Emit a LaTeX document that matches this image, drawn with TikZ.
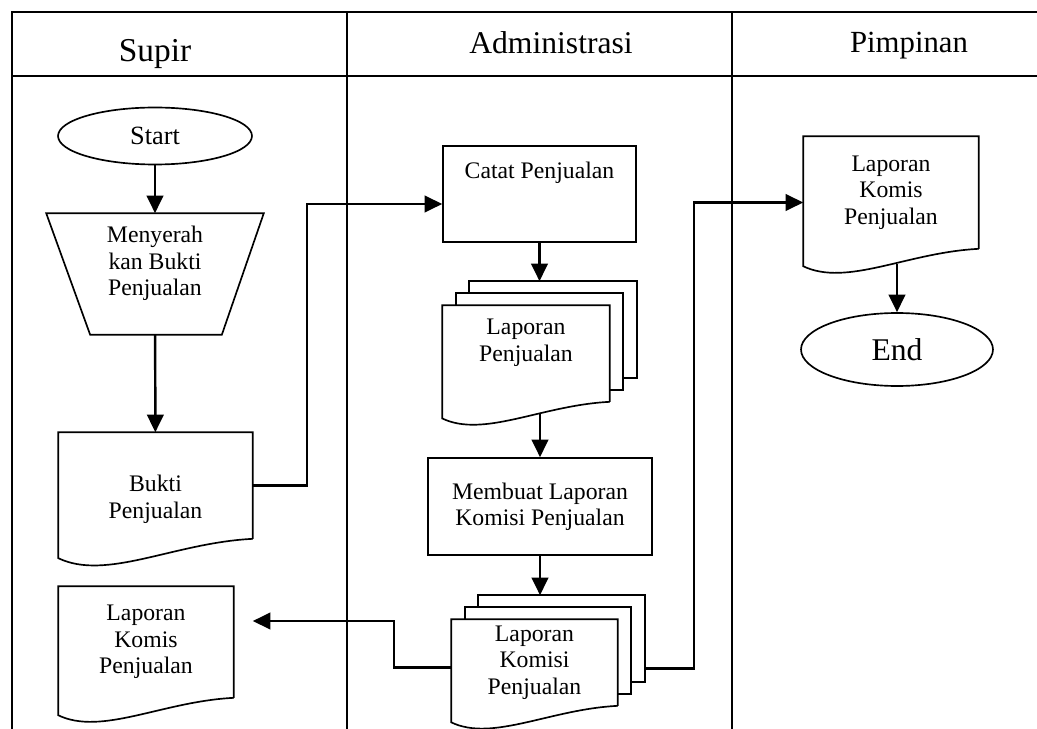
\documentclass[tikz,border=0pt]{standalone}
\usepackage{fontspec}
\setmainfont{Liberation Serif}
\usetikzlibrary{shapes.geometric,arrows.meta,calc}

\newcommand{\dokumen}[2]{%
  \draw (#1.south east) -- (#1.north east) -- (#1.north west) -- ($(#1.south west)+(0,0.1*#2)$)
    .. controls ($(#1.south west)+(0.25*#2,0.22*#2)$) and ($(#1.south west)+(0.6*#2,0.02*#2)$) .. (#1.south east);
}
\newcommand{\lembar}[1]{%
  \draw ($(#1.north west)+(27,-12)$) -- ($(#1.north west)+(27,-24)$) -- ($(#1.north east)+(27,-24)$)
    -- ($(#1.south east)+(27,-24)$) -- ($(#1.south east)+(13.5,-24)$);
  \draw ($(#1.north west)+(13.5,0)$) -- ($(#1.north west)+(13.5,-12)$) -- ($(#1.north east)+(13.5,-12)$)
    -- ($(#1.south east)+(13.5,-12)$) -- ($(#1.south east)+(0,-12)$);
  \coordinate (#1-top) at ($(#1.north)+(27,-24)$);
  \coordinate (#1-right) at ($(#1.east)+(27,0)$);
}

\begin{document}
\begin{tikzpicture}[x=0.02cm,y=-0.02cm,line width=0.95pt,
    every node/.style={font=\fontsize{13.5}{15}\selectfont, align=center},
    proses/.style={draw, rectangle, inner sep=0pt},
    dok/.style={rectangle, inner sep=0pt},
    terminal/.style={draw, ellipse, inner sep=0pt},
    judul/.style={anchor=base},
    panah/.style={-{Triangle[length=0.35cm,width=0.33cm]}, line width=1.4pt}]
\path[use as bounding box, fill=white] (0,0) rectangle (1037,729);
\draw (12,729) -- (12,12) -- (1037,12);
\draw (12,76) -- (1037,76);
\draw (347,12) -- (347,729);
\draw (732,12) -- (732,729);

\node[judul, font=\fontsize{19}{22}\selectfont] (supir) at (155,62) {Supir};
\node[judul, font=\fontsize{18}{22}\selectfont] (admin) at (551,54) {Administrasi};
\node[judul, font=\fontsize{17.5}{22}\selectfont] (pimpinan) at (909,53) {Pimpinan};

\node[terminal, minimum width=3.88cm, minimum height=1.14cm, font=\fontsize{15}{18}\selectfont] (mulai) at (155,136) {Start};
\node[dok, minimum width=4.32cm, minimum height=2.4cm] (serah) at (155,274) {Menyerah\\kan Bukti\\Penjualan\\\mbox{}};
\draw (serah.north west) -- (serah.north east) -- ($(serah.south east)+(-42,0)$) -- ($(serah.south west)+(44,0)$) -- cycle;
\node[dok, minimum width=3.86cm, minimum height=2.1cm] (bukti) at (155.5,485.5) {\mbox{}\\[10pt]Bukti\\Penjualan};
\dokumen{bukti}{193}
\node[dok, minimum width=3.48cm, minimum height=2.2cm] (lkomis) at (146,642) {Laporan\\Komis\\Penjualan};
\dokumen{lkomis}{174}

\node[proses, minimum width=3.86cm, minimum height=1.92cm] (catat) at (539.5,194) {Catat Penjualan\\[12pt]\mbox{}};
\node[dok, minimum width=3.32cm, minimum height=1.9cm] (lpj) at (526,353.5) {Laporan\\Penjualan\\\mbox{}};
\dokumen{lpj}{166}
\lembar{lpj}
\node[proses, minimum width=4.48cm, minimum height=1.94cm] (membuat) at (540,506.5) {Membuat Laporan\\Komisi Penjualan};
\node[dok, minimum width=3.3cm, minimum height=1.7cm] (lkp) at (534.5,662.5) {Laporan\\Komisi\\Penjualan};
\dokumen{lkp}{165}
\lembar{lkp}

\node[dok, minimum width=3.48cm, minimum height=2.22cm] (rdoc) at (891,192.5) {Laporan\\Komis\\Penjualan};
\dokumen{rdoc}{174}
\node[terminal, minimum width=3.84cm, minimum height=1.46cm, font=\fontsize{18}{22}\selectfont] (selesai) at (897,349.5) {End};

\draw[panah] (mulai) -- (serah);
\draw[panah] (serah) -- (bukti);
\draw[panah] (bukti.east) -- ++(54,0) |- ([yshift=-0.2cm]catat.west);
\draw[panah] (catat) -- (catat |- lpj-top);
\draw[panah] ($(lpj.south)+(14,12)$) -- (membuat);
\draw[panah] (membuat) -- (membuat |- lkp-top);
\draw[panah] ([yshift=-0.1cm]lkp.west) -- ++(-57,0) |- ([xshift=0.38cm,yshift=0.42cm]lkomis.east);
\draw[panah] ([yshift=-0.12cm]lkp-right) -- ++(49,0) |- ([yshift=-0.2cm]rdoc.west);
\draw[panah] ($(rdoc.south)+(6,15)$) -- (selesai);
\end{tikzpicture}
\end{document}
